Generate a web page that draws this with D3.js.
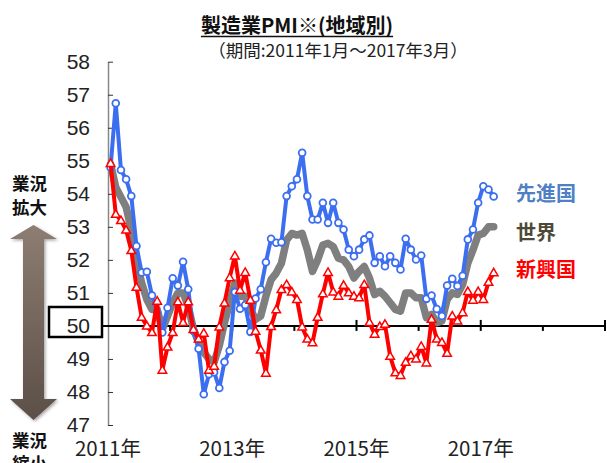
<!DOCTYPE html>
<html>
<head>
<meta charset="utf-8">
<script src="https://cdn.jsdelivr.net/npm/d3@7"></script>
<style>
  body { margin: 0; background: #fff; }
  text { font-family: "Liberation Sans", Arial, sans-serif; }
  .jp { font-family: "Noto Sans CJK JP", sans-serif; }
</style>
</head>
<body>
<div id="chart"></div>
<script>
// monthly values, 2011年1月 .. 2017年3月 (75 months)
const advanced = [54.8, 56.74, 54.72, 54.44, 53.93, 52.42, 51.62, 51.64, 50.92, 50.4,
  49.8, 50.55, 51.44, 51.22, 51.94, 51.11, 49.85, 49.31, 47.93, 48.54,
  48.6, 48.12, 48.91, 49.25, 51.03, 50.52, 50.63, 49.82, 50.83, 51.11,
  51.93, 52.64, 52.52, 52.53, 53.93, 54.23, 54.44, 55.24, 53.93, 53.22,
  53.22, 53.73, 53.12, 53.73, 53.12, 52.92, 52.31, 52.11, 52.31, 52.62,
  52.74, 51.91, 52.11, 51.81, 52.11, 51.91, 51.71, 52.64, 52.31, 52.01,
  52.13, 50.82, 50.92, 50.51, 50.30, 51.22, 51.43, 51.21, 51.52, 52.62,
  52.92, 53.73, 54.23, 54.13, 53.92];

const world = [54.9, 54.2, 53.9, 53.6, 52.9, 52.0, 51.3, 50.8, 50.5, 50.5,
  49.9, 50.3, 50.7, 51.0, 51.0, 50.6, 49.9, 49.5, 49.2, 49.0,
  48.9, 49.4, 50.1, 50.7, 51.3, 50.9, 50.9, 50.5, 50.2, 50.3,
  50.9, 51.4, 51.6, 51.9, 52.6, 52.8, 52.75, 52.8, 52.3, 51.65,
  52.0, 52.45, 52.5, 52.4, 52.05, 52.0, 51.8, 51.45, 51.65, 51.8,
  51.45, 50.95, 51.05, 50.9, 50.7, 50.5, 50.45, 51.0, 51.0, 50.85,
  50.85, 50.25, 50.35, 50.1, 50.15, 50.8, 51.0, 50.95, 51.25, 51.9,
  52.3, 52.75, 52.8, 53.0, 53.0];

const emerging = [54.92, 53.38, 53.19, 52.9, 52.28, 51.17, 50.26, 50.0, 49.8, 50.75,
  48.66, 49.36, 49.8, 50.73, 50.1, 50.73, 49.89, 49.6, 49.78, 48.66,
  48.78, 49.97, 50.69, 51.46, 52.12, 51.08, 51.62, 50.78, 49.84, 49.27,
  48.57, 49.98, 50.49, 51.1, 51.25, 51.03, 50.8, 49.97, 49.6, 49.49,
  50.26, 50.97, 51.62, 51.03, 50.9, 51.23, 51.0, 50.9, 50.85, 51.25,
  50.1, 49.75, 49.98, 50.05, 49.08, 48.58, 48.5, 48.9, 49.1, 49.0,
  49.38, 48.88, 50.2, 49.6, 49.5, 49.17, 50.3, 50.15, 50.4, 51.04,
  50.78, 51.04, 50.8, 51.32, 51.61];

const yTicks = d3.range(47, 59);
const yearLabels = ["2011年", "2013年", "2015年", "2017年"];
const yearMonths = [0, 24, 48, 72];
const seriesNames = ["先進国", "世界", "新興国"];

const width = 607, height = 463;

const svg = d3.select("#chart").append("svg")
  .attr("width", width)
  .attr("height", height);

const x = d3.scaleLinear().domain([0, 96]).range([108, 605]);
const y = d3.scaleLinear().domain([47, 58]).range([425, 61.7]);
const mx = i => x(i + 0.5);

// title
const title = svg.append("text")
  .attr("class", "jp")
  .attr("x", 297).attr("y", 33)
  .attr("text-anchor", "middle")
  .attr("font-size", 20).attr("font-weight", "bold")
  .attr("fill", "#111")
  .text("製造業PMI※(地域別)");
const tb = title.node().getBBox();
svg.append("line")
  .attr("x1", tb.x).attr("x2", tb.x + tb.width)
  .attr("y1", 36.5).attr("y2", 36.5)
  .attr("stroke", "#111").attr("stroke-width", 1.5);

svg.append("text")
  .attr("class", "jp")
  .attr("x", 338).attr("y", 57)
  .attr("text-anchor", "middle")
  .attr("font-size", 17.5)
  .attr("fill", "#222")
  .text("（期間:2011年1月～2017年3月）");

// box behind the 50 label
svg.append("rect")
  .attr("x", 49).attr("y", 307)
  .attr("width", 53).attr("height", 30)
  .attr("fill", "#fff")
  .attr("stroke", "#000").attr("stroke-width", 2.5);

// y axis
const yAxis = svg.append("g")
  .attr("transform", "translate(108,0)")
  .call(d3.axisLeft(y).tickValues(yTicks).tickSize(-5).tickSizeOuter(0).tickPadding(18));
yAxis.select(".domain").attr("stroke", "#888").attr("stroke-width", 1.5);
yAxis.selectAll(".tick line").attr("stroke", "#333");
yAxis.selectAll(".tick text")
  .attr("font-size", 21)
  .attr("font-family", "Liberation Sans, Arial, sans-serif")
  .attr("fill", "#222");

// x axis at 50
const y50 = y(50);
svg.append("line")
  .attr("x1", 102).attr("x2", 605)
  .attr("y1", y50).attr("y2", y50)
  .attr("stroke", "#000").attr("stroke-width", 2);
svg.append("g").selectAll("line")
  .data(d3.range(1, 9))
  .join("line")
  .attr("x1", d => x(d * 12)).attr("x2", d => x(d * 12))
  .attr("y1", d => d % 2 === 0 ? y50 - 6 : y50)
  .attr("y2", d => y50 + 5)
  .attr("stroke", "#000").attr("stroke-width", 2);

svg.append("g").selectAll("text")
  .data(yearLabels)
  .join("text")
  .attr("class", "jp")
  .attr("x", (d, i) => x(yearMonths[i]))
  .attr("y", 456)
  .attr("text-anchor", "middle")
  .attr("font-size", 20.5)
  .attr("fill", "#222")
  .text(d => d);

// lines
const line = d3.line().x((d, i) => mx(i)).y(d => y(d));

svg.append("path").datum(world)
  .attr("d", line)
  .attr("fill", "none")
  .attr("stroke", "#7f7f7f").attr("stroke-width", 7.5)
  .attr("stroke-linejoin", "round").attr("stroke-linecap", "round");

svg.append("path").datum(advanced)
  .attr("d", line)
  .attr("fill", "none")
  .attr("stroke", "#3c6ef0").attr("stroke-width", 4)
  .attr("stroke-linejoin", "round");
svg.append("g").selectAll("circle")
  .data(advanced)
  .join("circle")
  .attr("cx", (d, i) => mx(i)).attr("cy", d => y(d))
  .attr("r", 3.4)
  .attr("fill", "#fff")
  .attr("stroke", "#3c6ef0").attr("stroke-width", 1.8);

svg.append("path").datum(emerging)
  .attr("d", line)
  .attr("fill", "none")
  .attr("stroke", "#ff0000").attr("stroke-width", 4)
  .attr("stroke-linejoin", "round");
const tri = d3.symbol().type(d3.symbolTriangle).size(32);
svg.append("g").selectAll("path")
  .data(emerging)
  .join("path")
  .attr("transform", (d, i) => `translate(${mx(i)},${y(d) + 0.5})`)
  .attr("d", tri)
  .attr("fill", "#fff")
  .attr("stroke", "#ff0000").attr("stroke-width", 1.5);

// series labels
const labelColors = ["#4f7fc4", "#4d4936", "#ff0000"];
const labelY = [201, 240, 277];
svg.append("g").selectAll("text")
  .data(seriesNames)
  .join("text")
  .attr("class", "jp")
  .attr("x", 516)
  .attr("y", (d, i) => labelY[i])
  .attr("font-size", 20).attr("font-weight", "bold")
  .attr("fill", (d, i) => labelColors[i])
  .text(d => d);

// left arrow (業況拡大 / 業況縮小)
const defs = svg.append("defs");
const grad = defs.append("linearGradient")
  .attr("id", "arrowGrad")
  .attr("x1", 0).attr("x2", 0).attr("y1", 0).attr("y2", 1);
grad.append("stop").attr("offset", "0%").attr("stop-color", "#8d7d72");
grad.append("stop").attr("offset", "100%").attr("stop-color", "#5c4f47");
const shadow = defs.append("filter").attr("id", "shadow")
  .attr("x", "-30%").attr("y", "-10%").attr("width", "160%").attr("height", "120%");
shadow.append("feDropShadow")
  .attr("dx", 1.5).attr("dy", 1.5).attr("stdDeviation", 1.5)
  .attr("flood-color", "#000").attr("flood-opacity", 0.35);

const cx = 33.5;
svg.append("path")
  .attr("d", `M${cx},225 L57,239 L44,239 L44,399 L57,399 L${cx},420 L10,399 L23,399 L23,239 L10,239 Z`)
  .attr("fill", "url(#arrowGrad)")
  .attr("filter", "url(#shadow)");

const sideText = [["業況", 190], ["拡大", 214], ["業況", 447], ["縮小", 470]];
svg.append("g").selectAll("text")
  .data(sideText)
  .join("text")
  .attr("class", "jp")
  .attr("x", 12)
  .attr("y", d => d[1])
  .attr("font-size", 17.5).attr("font-weight", "bold")
  .attr("fill", "#111")
  .text(d => d[0]);
</script>
</body>
</html>
